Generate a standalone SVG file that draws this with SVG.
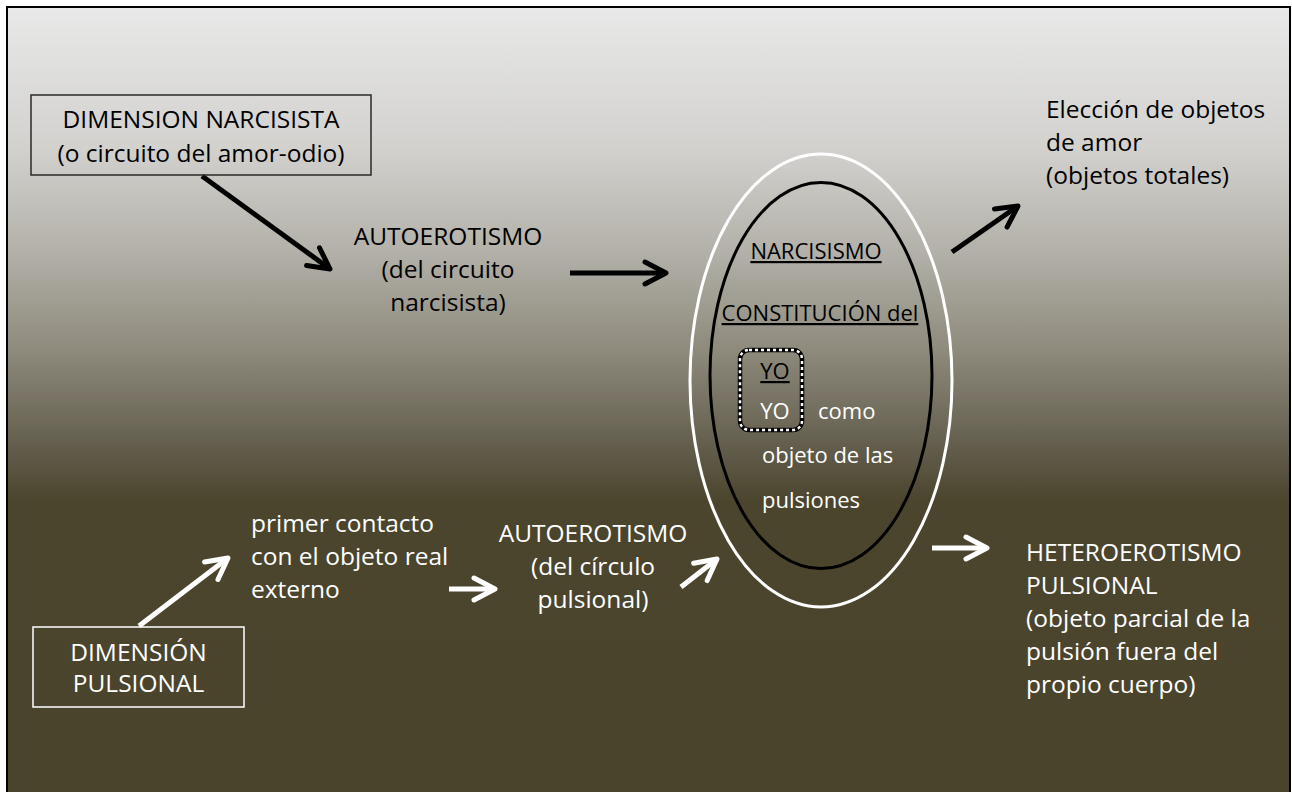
<svg xmlns="http://www.w3.org/2000/svg" width="1292" height="792" viewBox="0 0 1292 792">
  <defs>
    <linearGradient id="bg" gradientUnits="userSpaceOnUse" x1="0" y1="7" x2="0" y2="792">
      <stop offset="0" stop-color="#e9e9e9"/>
      <stop offset="0.18" stop-color="#d2d1ce"/>
      <stop offset="0.31" stop-color="#b3b1a9"/>
      <stop offset="0.44" stop-color="#8d897b"/>
      <stop offset="0.55" stop-color="#666150"/>
      <stop offset="0.63" stop-color="#4b452e"/>
      <stop offset="1" stop-color="#4a442d"/>
    </linearGradient>
    <marker id="ahB" markerUnits="userSpaceOnUse" markerWidth="34" markerHeight="34" viewBox="-28 -17 34 34" refX="0" refY="0" orient="auto">
      <path d="M-21,-11 L0,0 L-21,11" fill="none" stroke="#000" stroke-width="5" stroke-linecap="round" stroke-linejoin="round"/>
    </marker>
    <marker id="ahW" markerUnits="userSpaceOnUse" markerWidth="34" markerHeight="34" viewBox="-28 -17 34 34" refX="0" refY="0" orient="auto">
      <path d="M-21,-11 L0,0 L-21,11" fill="none" stroke="#fff" stroke-width="5" stroke-linecap="round" stroke-linejoin="round"/>
    </marker>
  </defs>
  <style>
    text { font-family: "Open Sans", "Liberation Sans", sans-serif; }
    .t { font-size: 24.5px; }
    .s { font-size: 22px; }
    .k { fill: #000; }
    .w { fill: #fff; }
    .mid { text-anchor: middle; }
    .u { text-decoration: underline; }
    .ab { stroke: #000; stroke-width: 5; fill: none; marker-end: url(#ahB); }
    .aw { stroke: #fff; stroke-width: 5; fill: none; marker-end: url(#ahW); }
  </style>

  <rect x="0" y="0" width="1292" height="792" fill="#fff"/>
  <rect x="7" y="7" width="1283" height="800" fill="url(#bg)" stroke="#000" stroke-width="2"/>

  <g id="connectors">
    <line class="ab" x1="202" y1="176" x2="330" y2="269"/>
    <line class="ab" x1="570" y1="273" x2="666" y2="273"/>
    <line class="ab" x1="952" y1="252" x2="1018" y2="206"/>
    <line class="aw" x1="139" y1="626" x2="228" y2="558"/>
    <line class="aw" x1="449" y1="589" x2="495" y2="589"/>
    <line class="aw" x1="681" y1="587" x2="717" y2="559"/>
    <line class="aw" x1="932" y1="548" x2="987" y2="548"/>
  </g>

  <g id="dimension-narcisista">
    <rect x="31" y="95" width="340" height="80" fill="none" stroke="#2a2a2a" stroke-width="1.5"/>
    <text class="t k mid" x="201" y="128">DIMENSION NARCISISTA</text>
    <text class="t k mid" x="201" y="162">(o circuito del amor-odio)</text>
  </g>

  <g id="autoerotismo-narcisista">
    <text class="t k mid" x="448" y="245">AUTOEROTISMO</text>
    <text class="t k mid" x="448" y="278">(del circuito</text>
    <text class="t k mid" x="448" y="311">narcisista)</text>
  </g>

  <g id="narcisismo">
    <ellipse cx="821" cy="380.5" rx="131" ry="226.5" fill="none" stroke="#fff" stroke-width="3"/>
    <ellipse cx="821" cy="375.5" rx="111" ry="193" fill="none" stroke="#000" stroke-width="3"/>
    <text class="s k mid u" x="816" y="259">NARCISISMO</text>
    <text class="s k mid u" x="820" y="321">CONSTITUCIÓN del</text>
  </g>

  <g id="yo">
    <rect x="740" y="350" width="62" height="80" rx="9" fill="none" stroke="#000" stroke-width="4.5"/>
    <rect x="740" y="350" width="62" height="80" rx="9" fill="none" stroke="#fff" stroke-width="2.5" stroke-dasharray="3 3"/>
    <text class="s k mid u" x="775" y="379">YO</text>
    <text class="s w mid" x="775" y="419">YO</text>
  </g>

  <g id="yo-objeto">
    <text class="s w" x="818" y="419">como</text>
    <text class="s w" x="762" y="463">objeto de las</text>
    <text class="s w" x="762" y="508">pulsiones</text>
  </g>

  <g id="eleccion-objetos">
    <text class="t k" x="1046" y="118">Elección de objetos</text>
    <text class="t k" x="1046" y="151">de amor</text>
    <text class="t k" x="1046" y="184">(objetos totales)</text>
  </g>

  <g id="dimension-pulsional">
    <rect x="33" y="627" width="211" height="80" fill="none" stroke="#fff" stroke-width="1.5"/>
    <text class="t w mid" x="138.5" y="661">DIMENSIÓN</text>
    <text class="t w mid" x="138.5" y="692">PULSIONAL</text>
  </g>

  <g id="primer-contacto">
    <text class="t w" x="251" y="532">primer contacto</text>
    <text class="t w" x="251" y="565">con el objeto real</text>
    <text class="t w" x="251" y="598">externo</text>
  </g>

  <g id="autoerotismo-pulsional">
    <text class="t w mid" x="593" y="542">AUTOEROTISMO</text>
    <text class="t w mid" x="593" y="575">(del círculo</text>
    <text class="t w mid" x="593" y="608">pulsional)</text>
  </g>

  <g id="heteroerotismo">
    <text class="t w" x="1026" y="561">HETEROEROTISMO</text>
    <text class="t w" x="1026" y="594">PULSIONAL</text>
    <text class="t w" x="1026" y="627">(objeto parcial de la</text>
    <text class="t w" x="1026" y="660">pulsión fuera del</text>
    <text class="t w" x="1026" y="693">propio cuerpo)</text>
  </g>
</svg>
